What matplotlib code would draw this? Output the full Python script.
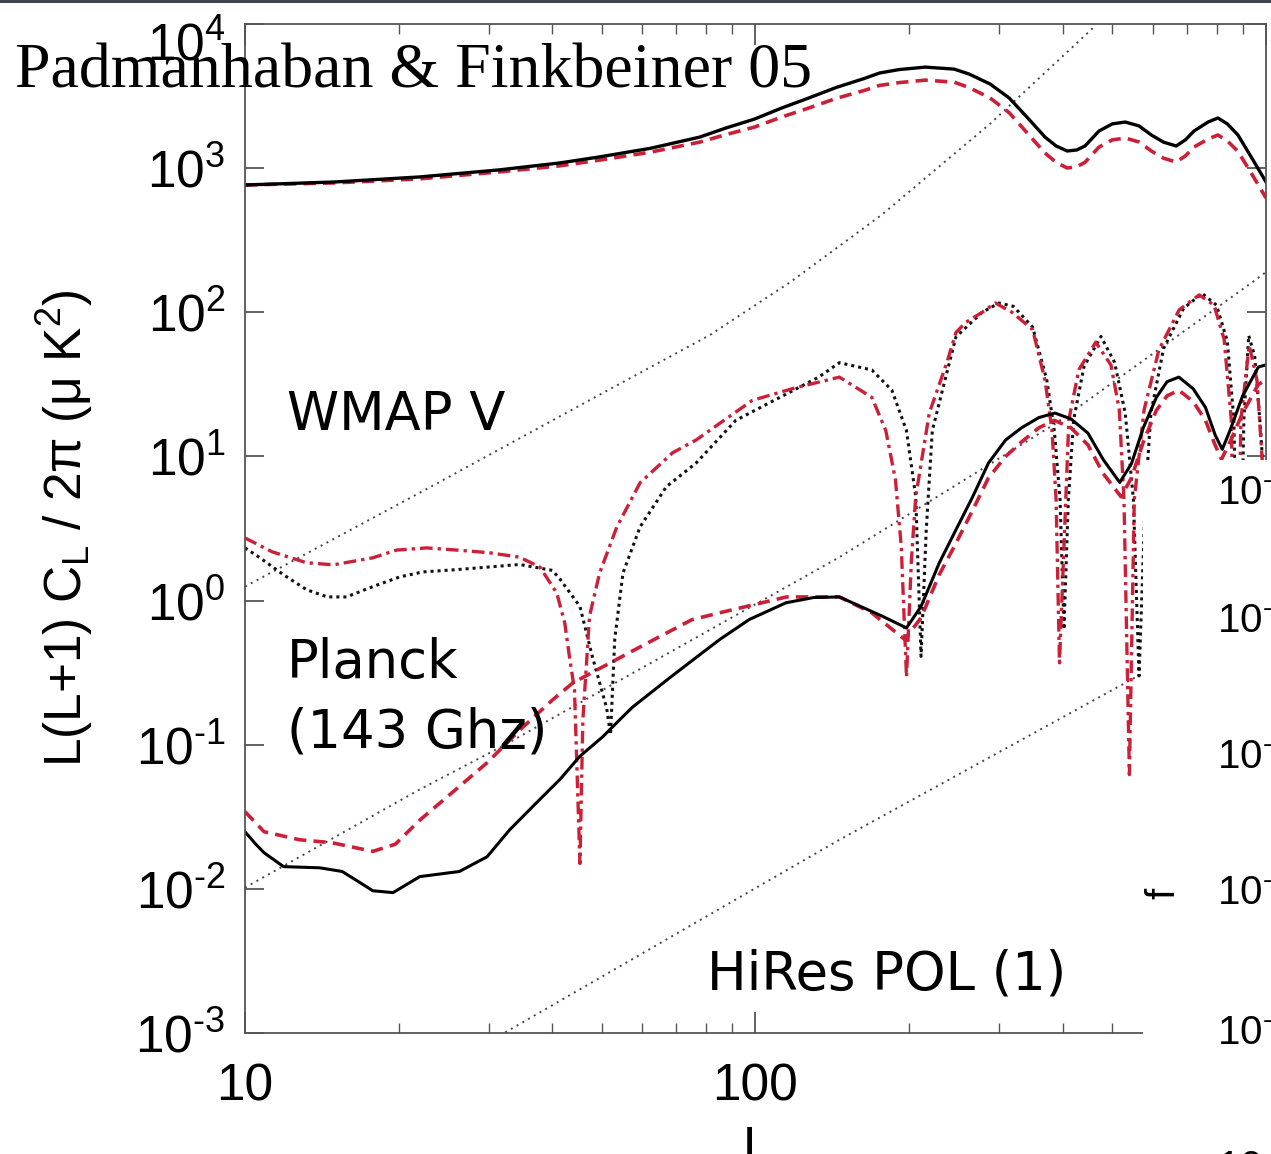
import numpy as np
import matplotlib.pyplot as plt
from matplotlib.patches import Rectangle
from matplotlib.transforms import ScaledTranslation
from matplotlib.ticker import FuncFormatter, LogLocator, NullLocator, FixedLocator

plt.rcParams['font.family'] = ['Liberation Sans', 'DejaVu Sans']
plt.rcParams['mathtext.fontset'] = 'custom'
plt.rcParams['mathtext.rm'] = 'Liberation Sans'
plt.rcParams['mathtext.it'] = 'Liberation Sans:italic'
plt.rcParams['mathtext.bf'] = 'Liberation Sans:bold'

HYPH = '\u2010'

# ---- data (L, L(L+1)C_L/2pi in muK^2) ----
tt_L = [10, 15, 22, 31.5, 41.4, 49.5, 62.2, 77.7, 87.6, 99.5, 112.5, 127, 144, 163, 175, 191, 215,
        245, 262, 288, 314, 340, 369, 388, 408, 426, 442, 471, 500, 530, 564, 596, 630, 667, 695,
        723, 770, 805, 840, 881, 943, 1000]
tt = [764, 802, 869, 973, 1087, 1197, 1372, 1641, 1901, 2188, 2612, 3062, 3631, 4178, 4571, 4827, 5023,
      4864, 4498, 3837, 3069, 2265, 1644, 1425, 1315, 1337, 1425, 1811, 2028, 2089, 1963, 1700, 1514,
      1425, 1570, 1811, 2089, 2228, 2028, 1700, 1140, 802]
tt_red = [764, 790, 843, 942, 1038, 1137, 1290, 1515, 1711, 1925, 2262, 2609, 3050, 3451, 3748, 3920,
          4079, 3950, 3625, 3070, 2425, 1767, 1274, 1097, 1002, 1023, 1097, 1402, 1570, 1617, 1519,
          1316, 1172, 1103, 1215, 1402, 1592, 1698, 1545, 1309, 882, 621]

te_red_L = [10, 11.3, 13.2, 14.9, 17.8, 19.8, 22.7, 26, 30, 34.5, 37.8, 40.8, 42.3, 43.2, 44.2, 45.3,
            45.9, 47.3, 49.5, 53.5, 59.4, 68.8, 76.5, 98.6, 120, 146, 169, 180, 188, 193, 197.6,
            202, 206, 219, 237, 247, 258, 278, 295, 318, 349, 369, 381, 388, 394,
            411, 430, 464, 497, 516, 527, 540, 552, 577, 617, 676, 740, 791, 828, 855, 874,
            893, 927, 960, 983, 1000]
te_red = [2.72, 2.18, 1.83, 1.77, 1.98, 2.24, 2.32, 2.24, 2.15, 2.0, 1.71, 1.13, 0.70, 0.41, 0.24, 0.015,
          0.148, 0.78, 1.55, 3.24, 6.56, 10.6, 13.0, 24.5, 30, 35.5, 25.7, 15.1, 6.9, 2.36, 0.295,
          1.9, 5.25, 20, 44.7, 72.4, 85, 100, 116, 100, 75.9, 33.9, 15.1, 5.0, 0.37,
          18, 40, 62, 43, 21, 5, 0.062, 5, 21, 55, 104, 132, 112, 65, 18, 0.2,
          18, 59, 34, 9.5, 1.0]

te_blk_L = [10, 10.7, 11.9, 13.2, 14.5, 15.8, 17.8, 20.1, 22.3, 26, 34.5, 40, 41.4, 45.3, 47.9,
            51.1, 52.0, 53, 55, 59.4, 66.9, 76.5, 91.5, 133, 146, 169, 185, 197.6, 206, 211,
            216, 222, 237, 247, 278, 300, 320, 349, 372, 385, 395, 402, 410, 420, 440, 475,
            505, 530, 550, 564, 580, 595, 630, 690, 750, 800, 840, 865, 885, 905, 925, 950,
            975, 1000]
te_blk = [2.32, 1.98, 1.51, 1.19, 1.06, 1.06, 1.25, 1.46, 1.58, 1.64, 1.78, 1.62, 1.41, 0.91, 0.41,
          0.18, 0.117, 0.54, 1.55, 3.24, 6.17, 9.0, 17.8, 35.5, 44.7, 39.8, 28.8, 15.1, 5.25, 0.41,
          3.09, 15.1, 38, 67.6, 100, 116, 110, 79, 34, 15, 5, 0.63, 5, 18, 42, 68,
          45, 20, 5, 0.3, 5, 20, 56, 107, 135, 112, 63, 18, 0.3, 18, 69, 50,
          16, 4]

ee_L = [10, 10.5, 10.9, 11.9, 14.0, 15.5, 16.7, 17.8, 19.5, 22, 26.3, 29.8, 33.0, 37.3, 41.4, 45.3,
        50.2, 54.2, 57.4, 62.9, 67.8, 77.7, 85.1, 97.3, 114.8, 130, 146, 177.6, 197.6, 211, 229,
        247, 266, 286, 309, 332, 359, 386, 415, 448, 480, 517, 545, 575, 610, 640, 675, 720, 761,
        795, 821, 850, 900, 966, 1000]
ee = [0.0249, 0.0204, 0.0178, 0.01426, 0.0140, 0.0132, 0.0112, 0.0097, 0.00942, 0.01216, 0.0132,
      0.0167, 0.0257, 0.0398, 0.0575, 0.0832, 0.1135, 0.149, 0.182, 0.235, 0.29, 0.42, 0.537,
      0.74, 0.966, 1.05, 1.06, 0.776, 0.646, 0.91, 1.82, 3.1, 5.2, 9.0, 13.0, 15.8, 18.6, 20.0,
      18.2, 14.5, 9.5, 6.6, 8.9, 15.8, 25.7, 33.0, 35.5, 29.5, 21.9, 14.1, 11.2, 15.1, 26.3,
      41.7, 43.2]

ee_red_L = [10, 10.9, 12.8, 14.8, 17.8, 19.7, 22, 25.5, 29.8, 34.5, 40, 43.9, 57.4, 75, 85, 115,
            146, 169, 196, 211, 229, 247, 266, 286, 309, 332, 359, 385, 415, 448, 480, 520, 545,
            575, 610, 640, 675, 720, 761, 795, 818, 850, 900, 966, 1000]
ee_red = [0.0343, 0.0249, 0.0219, 0.0209, 0.0182, 0.0204, 0.030, 0.0468, 0.075, 0.126, 0.204,
          0.269, 0.447, 0.736, 0.822, 1.06, 1.06, 0.822, 0.537, 0.76, 1.51, 2.5, 4.2, 7.1, 10.0,
          12.6, 15.8, 17.8, 15.8, 12.0, 7.6, 5.25, 7.1, 12.6, 20.9, 26.3, 28.8, 24.0, 17.8, 12.0,
          9.55, 12.6, 20.0, 31.6, 33.9]

# noise curves
wmap_L = [10, 22, 49.5, 81.5, 117, 176.5, 288, 456, 475]
wmap = [1.25, 5.6, 26.8, 69.7, 162, 473, 2030, 9230, 11500]
planck_L = [10, 22, 32, 146, 388, 950, 1000]
planck = [0.0102, 0.049, 0.098, 2.0, 17, 166, 190]
hires_L = [30, 32.5, 146, 566, 1000]
hires = [0.00085, 0.00102, 0.0219, 0.305, 0.95]

red = '#cc2038'
gray = '#444444'

fig = plt.figure(figsize=(12.71, 11.54), dpi=100)
ax = fig.add_axes([0.19276, 0.10485, 0.80330, 0.87435])

ax.plot(wmap_L, wmap, color=gray, lw=1.4, ls=(0, (1, 2.4)))
ax.plot(planck_L, planck, color=gray, lw=1.4, ls=(0, (1, 2.4)))
ax.plot(hires_L, hires, color=gray, lw=1.4, ls=(0, (1, 2.4)))

ax.plot(te_blk_L, te_blk, color='#111111', lw=2.2, ls=(0, (1, 1.3)))
ax.plot(te_red_L, te_red, color=red, lw=2.4, ls=(0, (3.8, 1.5, 1.0, 1.5)))

ax.plot(tt_L, tt_red, color=red, lw=2.6, ls=(0, (3.4, 2.0)))
ax.plot(tt_L, tt, color='black', lw=2.4)
ax.plot(ee_red_L, ee_red, color=red, lw=2.6, ls=(0, (3.4, 2.0)))
ax.plot(ee_L, ee, color='black', lw=2.2)

ax.set_xscale('log')
ax.set_yscale('log')
ax.set_xlim(10, 1000)
ax.set_ylim(1e-3, 1e4)

for s in ax.spines.values():
    s.set_color('#555555')
    s.set_linewidth(1.3)


def ylab(v, p):
    e = int(round(np.log10(v)))
    txt = str(e).replace('-', HYPH)
    return '$\\mathregular{10^{' + txt + '}}$'


ax.yaxis.set_major_locator(FixedLocator([10.0 ** k for k in range(-3, 5)]))
ax.yaxis.set_minor_locator(NullLocator())
ax.yaxis.set_major_formatter(FuncFormatter(ylab))
ax.xaxis.set_major_locator(FixedLocator([10, 100, 1000]))
ax.xaxis.set_minor_locator(LogLocator(base=10, subs=np.arange(2, 10)))
ax.xaxis.set_major_formatter(FuncFormatter(lambda v, p: '%d' % v if v < 500 else ''))

ax.tick_params(axis='both', which='both', direction='in', top=True, right=True,
               color='#555555', labelsize=37)
ax.tick_params(axis='y', which='major', length=14, width=1.3, pad=14)
ax.tick_params(axis='x', which='major', length=15, width=1.3, pad=21)
ax.tick_params(axis='x', which='minor', length=7, width=1.0)

# the top label sits a little lower in the original
top_tick = ax.yaxis.get_major_ticks()[-1]
top_tick.label1.set_transform(top_tick.label1.get_transform()
                              + ScaledTranslation(0, -0.17, fig.dpi_scale_trans))

ax.set_ylabel(r'L(L+1) C$_\mathregular{L}$ / 2π (μ K$^\mathregular{2}$)', fontsize=37)
ax.yaxis.set_label_coords(-0.147, 0.5)
ax.set_xlabel('L', fontsize=37)
ax.xaxis.set_label_coords(0.5015, -0.091)

ann = dict(fontsize=38, va='baseline', family='DejaVu Sans')
ax.text(12.08, 15.3, 'WMAP V', **ann)
ax.text(12.08, 0.292, 'Planck', **ann)
ax.text(12.08, 0.095, '(143 Ghz)', **ann)
ax.text(80.4, 0.002, 'HiRes POL (1)', **ann)

# white panel of the neighbouring plot covering the lower right corner
fig.add_artist(Rectangle((1143 / 1271, 0), 1 - 1143 / 1271, (1154 - 460) / 1154,
                         transform=fig.transFigure, facecolor='white', edgecolor='none', zorder=5))
for py, e in zip([493, 620, 757, 893, 1033, 1168], ['1', '2', '3', '4', '5', '6']):
    fig.text(1217 / 1271, 1 - py / 1154, '$\\mathregular{10^{' + HYPH + e + '}}$', fontsize=29,
             va='center', ha='left', zorder=6)
fig.text(1163 / 1271, 1 - 893 / 1154, 'f', fontsize=29, rotation=90, ha='center', va='center', zorder=6)

fig.add_artist(Rectangle((0, 1 - 3 / 1154), 1, 3 / 1154, transform=fig.transFigure,
                         facecolor='#3b4450', edgecolor='none', zorder=7))

fig.text(15 / 1271, 1 - 87 / 1154, 'Padmanhaban & Finkbeiner 05', family='Liberation Serif',
         fontsize=46, va='baseline', zorder=8)

fig.savefig('out.png', dpi=100)
